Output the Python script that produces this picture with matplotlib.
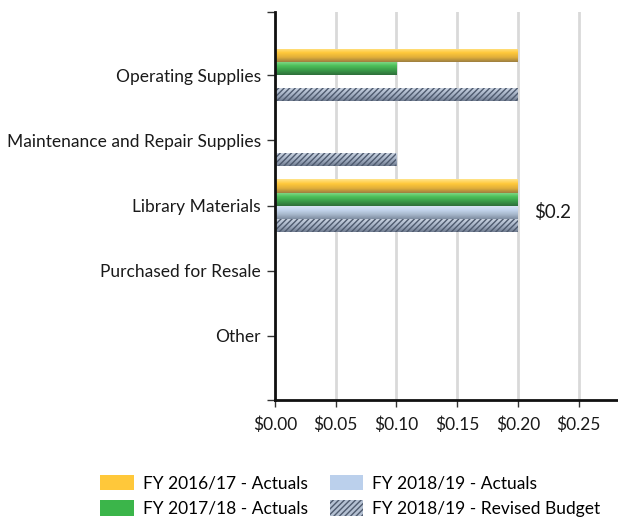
import numpy as np
import matplotlib
matplotlib.use('Agg')
import matplotlib.pyplot as plt
from matplotlib.colors import LinearSegmentedColormap
from matplotlib.patches import Patch
from matplotlib.ticker import FuncFormatter, FixedLocator

plt.rcParams['font.family'] = ['Lato', 'DejaVu Sans']
plt.rcParams['hatch.linewidth'] = 1.0

categories = ['Operating Supplies', 'Maintenance and Repair Supplies',
              'Library Materials', 'Purchased for Resale', 'Other']
series = ['FY 2016/17 - Actuals', 'FY 2017/18 - Actuals',
          'FY 2018/19 - Actuals', 'FY 2018/19 - Revised Budget']
fy1617 = [0.2, 0.0, 0.2, 0.0, 0.0]
fy1718 = [0.1, 0.0, 0.2, 0.0, 0.0]
fy1819 = [0.0, 0.0, 0.2, 0.0, 0.0]
budget = [0.2, 0.1, 0.2, 0.0, 0.0]
xticks = [0.0, 0.05, 0.10, 0.15, 0.20, 0.25]

values = [fy1617, fy1718, fy1819, budget]
flat = ['#FFC83A', '#3BB54A', '#BBD0EC', '#B4C0D2']
# top -> bottom shading for the glossy bars
shades = [
    ['#FFE48A', '#FFC83A', '#E0AE3A', '#9C7E40'],
    ['#8ADB8E', '#4CC05A', '#3A9A48', '#2E6E3A'],
    ['#DDE8F6', '#C4D6EE', '#A8B8CC', '#7E8CA0'],
    ['#D0D8E4', '#B4C0D2', '#98A4B8', '#707C90'],
]

fig = plt.figure(figsize=(6.18, 5.18), dpi=100)
ax = fig.add_axes([0.445, 0.228, 0.555, 0.749])

y = np.arange(len(categories))
h = 0.2
offsets = [-0.3, -0.1, 0.1, 0.3]

for i, vals in enumerate(values):
    cmap = LinearSegmentedColormap.from_list('s%d' % i, shades[i])
    grad = np.linspace(0, 1, 64).reshape(-1, 1)
    bars = ax.barh(y + offsets[i], vals, height=h, color='none',
                   edgecolor='none', zorder=3)
    for b in bars:
        if b.get_width() <= 0:
            continue
        x0, y0 = b.get_x(), b.get_y()
        x1, y1 = x0 + b.get_width(), y0 + b.get_height()
        im = ax.imshow(grad, cmap=cmap, aspect='auto',
                       extent=[x0, x1, y1, y0], zorder=3,
                       interpolation='bilinear')
        im.set_clip_path(b)
        if i == 3:
            b.set_hatch('//////')
            b.set_edgecolor('#4E5A6E')
            b.set_linewidth(0)
            b.set_zorder(4)

ax.set_xlim(0, 0.2825)
ax.set_ylim(4.98, -0.97)
ax.set_yticks(y)
ax.set_yticklabels(categories, fontsize=12.5, color='#1a1a1a')
ax.yaxis.set_minor_locator(FixedLocator([4.98, -0.97]))
ax.tick_params(axis='y', which='both', length=6, width=1, color='#333333', pad=4)
ax.set_xticks(xticks)
ax.xaxis.set_major_formatter(FuncFormatter(lambda v, p: '$%.2f' % v))
ax.tick_params(axis='x', length=5, width=1, color='#333333', labelsize=12.5,
               labelcolor='#1a1a1a', pad=7)
ax.grid(axis='x', color='#D9D9D9', linewidth=2, zorder=0)
ax.set_axisbelow(True)
for s in ['top', 'right']:
    ax.spines[s].set_visible(False)
for s in ['left', 'bottom']:
    ax.spines[s].set_linewidth(2)
    ax.spines[s].set_color('#111111')
    ax.spines[s].set_zorder(5)

# data label on the library materials actuals bar
ax.annotate('$0.2', xy=(fy1819[2], y[2] + offsets[2]), xytext=(12, 0),
            textcoords='offset points', ha='left', va='center',
            fontsize=13.5, color='#1a1a1a')

handles = [Patch(facecolor=flat[0]), Patch(facecolor=flat[1]),
           Patch(facecolor=flat[2]),
           Patch(facecolor='#B4C0D2', hatch='//////', edgecolor='#4E5A6E', linewidth=0)]
fig.legend(handles, series, loc='lower left', bbox_to_anchor=(100 / 618, 1 / 518),
           ncol=2, frameon=False, fontsize=12.5, handlelength=1.95,
           handleheight=1.0, columnspacing=1.25, handletextpad=0.52,
           labelspacing=0.5, borderpad=0, borderaxespad=0)

fig.savefig('out.png', dpi=100)
